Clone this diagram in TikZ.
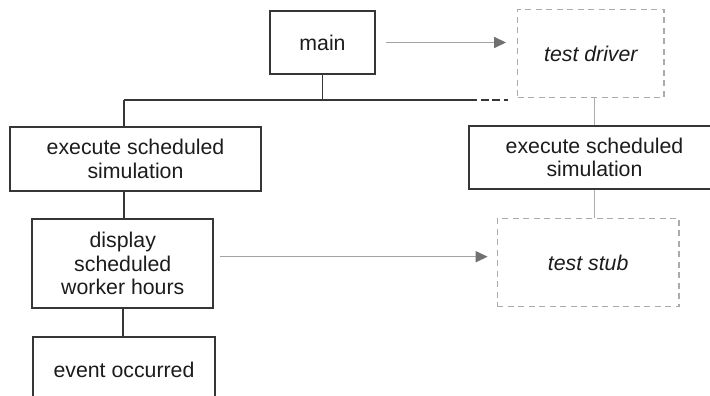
\documentclass[tikz,border=0pt]{standalone}
\usepackage{fontspec}
\setmainfont{Liberation Sans}
\usetikzlibrary{arrows.meta}
\definecolor{boxline}{HTML}{363636}
\definecolor{txt}{HTML}{1C1C1C}
\definecolor{lightline}{HTML}{ABABAB}
\definecolor{arrline}{HTML}{A3A3A3}
\definecolor{headgray}{HTML}{707070}
\tikzset{
  x=1pt, y=-1pt,
  every node/.style={font=\fontsize{21.3}{23.7}\selectfont, text=txt, align=center, inner sep=0pt},
  solidbox/.style={draw=boxline, line width=1.8pt},
  dashbox/.style={draw=lightline, line width=1.3pt, dash pattern=on 6pt off 4.5pt, font=\fontsize{21.3}{23.7}\selectfont\itshape},
  busline/.style={draw=boxline, line width=1.8pt},
  graylink/.style={draw=lightline, line width=1.3pt},
  garrow/.style={draw=arrline, line width=1.5pt, -{Triangle[length=12pt, width=11pt, color=headgray]}},
}
\begin{document}
\begin{tikzpicture}
\fill[white] (0,0) rectangle (710,396);
\clip (0,0) rectangle (710,396);
% nodes
\node[solidbox, minimum width=105pt, minimum height=63pt] (main) at (322.5,42.5) {main};
\node[dashbox, minimum width=146.3pt, minimum height=88.4pt] (tdriver) at (590.85,53.5) {test driver};
\node[solidbox, minimum width=251pt, minimum height=63.4pt] (left1) at (135.5,159) {execute scheduled\\simulation};
\node[solidbox, minimum width=251pt, minimum height=63.6pt] (right1) at (594.5,157.5) {execute scheduled\\simulation};
\node[solidbox, minimum width=181pt, minimum height=89pt] (display) at (122.8,263.5) {display\\scheduled\\worker hours};
\node[solidbox, minimum width=182pt, minimum height=66.6pt] (event) at (124,370) {event occurred};
\node[dashbox, minimum width=181.7pt, minimum height=88.4pt] (tstub) at (588.15,262.5) {test stub};
% bus
\coordinate (busL) at (124.3,100);
\coordinate (busM) at (469,100);
\coordinate (busE) at (508,100);
\draw[busline] (main.south) -- (main.south |- busL);
\draw[busline] (busL) -- (busM);
\draw[busline, dash pattern=on 8pt off 3.5pt] (busM) -- (busE);
\draw[busline] (busL) -- (busL |- left1.north);
\draw[busline] (busL |- left1.south) -- (busL |- display.north);
\draw[busline] (display.south) -- (display.south |- event.north);
% gray links
\draw[graylink] (right1.north) -- (right1.north |- tdriver.south);
\draw[graylink] (right1.south) -- (right1.south |- tstub.north);
% arrows
\draw[garrow, shorten <=10pt, shorten >=11pt] (main.east) -- (main.east -| tdriver.west);
\draw[garrow, shorten <=6pt, shorten >=9pt] ([yshift=6.8pt]display.east) -- ([yshift=6.8pt]display.east -| tstub.west);
\end{tikzpicture}
\end{document}
